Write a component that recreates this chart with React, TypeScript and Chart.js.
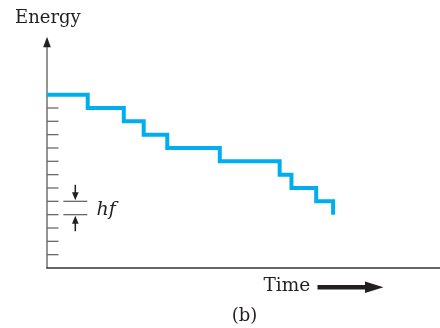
import React, { useEffect, useRef } from "react";
import { Chart, registerables } from "chart.js";

Chart.register(...registerables);

// Times at which the energy drops by one quantum (arbitrary time units)
const times = [0, 10.36, 19.54, 24.6, 30.6, 43.97, 59.2, 62.2, 68.5, 72.8];
// Energy levels (in units of hf) reached at those times
const energyLevels = [13, 12, 11, 10, 9, 8, 7, 6, 5, 4];
// Energy levels marked by tick marks on the vertical axis
const tickLevels = [1, 2, 3, 4, 5, 6, 7, 8, 9, 10, 11, 12, 13];
// Levels bracketed by the hf annotation
const hfLevels = [5, 4];

const SERIF = '"DejaVu Serif", serif';

const decorPlugin = {
  id: "decor",
  beforeDatasetsDraw(chart: any) {
    const { ctx, scales } = chart;
    const xs = scales.x;
    const ys = scales.y;
    const x0 = xs.getPixelForValue(0);
    const y0 = ys.getPixelForValue(0);
    const top = chart.chartArea.top;
    ctx.save();
    // y axis line
    ctx.strokeStyle = "#707070";
    ctx.lineWidth = 1.5;
    ctx.beginPath();
    ctx.moveTo(x0, y0);
    ctx.lineTo(x0, top + 4);
    ctx.stroke();
    // y axis arrowhead
    ctx.fillStyle = "#231f20";
    ctx.beginPath();
    ctx.moveTo(x0, top - 4.5);
    ctx.lineTo(x0 - 3.8, top + 6);
    ctx.lineTo(x0 + 3.8, top + 6);
    ctx.closePath();
    ctx.fill();
    // tick marks inside
    ctx.strokeStyle = "#6a6a6a";
    ctx.lineWidth = 1.3;
    for (const v of tickLevels) {
      const y = ys.getPixelForValue(v);
      ctx.beginPath();
      ctx.moveTo(x0, y);
      ctx.lineTo(x0 + 11.5, y);
      ctx.stroke();
    }
    // x axis line
    ctx.strokeStyle = "#333333";
    ctx.lineWidth = 1.4;
    ctx.beginPath();
    ctx.moveTo(x0 - 0.75, y0);
    ctx.lineTo(chart.width, y0);
    ctx.stroke();
    ctx.restore();
  },
  afterDraw(chart: any) {
    const { ctx, scales } = chart;
    const ys = scales.y;
    ctx.save();
    ctx.fillStyle = "#231f20";
    ctx.textBaseline = "alphabetic";
    ctx.textAlign = "left";
    ctx.font = `18px ${SERIF}`;
    ctx.fillText("Energy", 15, 23);
    ctx.font = `18.5px ${SERIF}`;
    ctx.fillText("Time", 263.5, 291);
    ctx.font = `18px ${SERIF}`;
    ctx.textAlign = "center";
    ctx.fillText("(b)", 244.5, 321);

    // Time arrow
    ctx.beginPath();
    ctx.rect(317.5, 285, 49, 4.5);
    ctx.fill();
    ctx.beginPath();
    ctx.moveTo(365, 281.5);
    ctx.lineTo(383.5, 287.2);
    ctx.lineTo(365, 293);
    ctx.closePath();
    ctx.fill();

    // hf annotation
    const ya = ys.getPixelForValue(hfLevels[0]);
    const yb = ys.getPixelForValue(hfLevels[1]);
    ctx.strokeStyle = "#6a6a6a";
    ctx.lineWidth = 1.3;
    for (const y of [ya, yb]) {
      ctx.beginPath();
      ctx.moveTo(63.3, y);
      ctx.lineTo(87.3, y);
      ctx.stroke();
    }
    const ax = 75.3;
    ctx.strokeStyle = "#231f20";
    ctx.lineWidth = 1.5;
    ctx.beginPath();
    ctx.moveTo(ax, ya - 16.5);
    ctx.lineTo(ax, ya - 6);
    ctx.moveTo(ax, yb + 16.5);
    ctx.lineTo(ax, yb + 6);
    ctx.stroke();
    ctx.beginPath();
    ctx.moveTo(ax, ya - 1);
    ctx.lineTo(ax - 3.3, ya - 9);
    ctx.lineTo(ax + 3.3, ya - 9);
    ctx.closePath();
    ctx.fill();
    ctx.beginPath();
    ctx.moveTo(ax, yb + 1);
    ctx.lineTo(ax - 3.3, yb + 9);
    ctx.lineTo(ax + 3.3, yb + 9);
    ctx.closePath();
    ctx.fill();
    ctx.textAlign = "left";
    ctx.font = `italic 19px ${SERIF}`;
    ctx.fillText("hf", 96.5, 215);
    ctx.restore();
  },
};

export default function App() {
  const ref = useRef<HTMLCanvasElement | null>(null);
  useEffect(() => {
    if (!ref.current) return;
    const chart = new Chart(ref.current, {
      type: "line",
      data: {
        datasets: [
          {
            data: times.map((t, i) => ({ x: t, y: energyLevels[i] })),
            borderColor: "#00aeef",
            borderWidth: 4,
            stepped: "before",
            pointRadius: 0,
            fill: false,
            borderJoinStyle: "miter",
            borderCapStyle: "butt",
          },
        ],
      },
      options: {
        animation: false,
        responsive: false,
        devicePixelRatio: 1,
        layout: { padding: { left: 47, right: 0, top: 41.3, bottom: 60 } },
        plugins: { legend: { display: false }, tooltip: { enabled: false } },
        scales: {
          x: { type: "linear", min: 0, max: 100, display: false },
          y: { type: "linear", min: 0, max: 17, display: false },
        },
      },
      plugins: [decorPlugin],
    });
    return () => chart.destroy();
  }, []);
  return (
    <div style={{ position: "fixed", left: 0, top: 0, width: 440, height: 328, background: "#fff" }}>
      <canvas ref={ref} width={440} height={328} style={{ width: 440, height: 328 }} />
    </div>
  );
}
